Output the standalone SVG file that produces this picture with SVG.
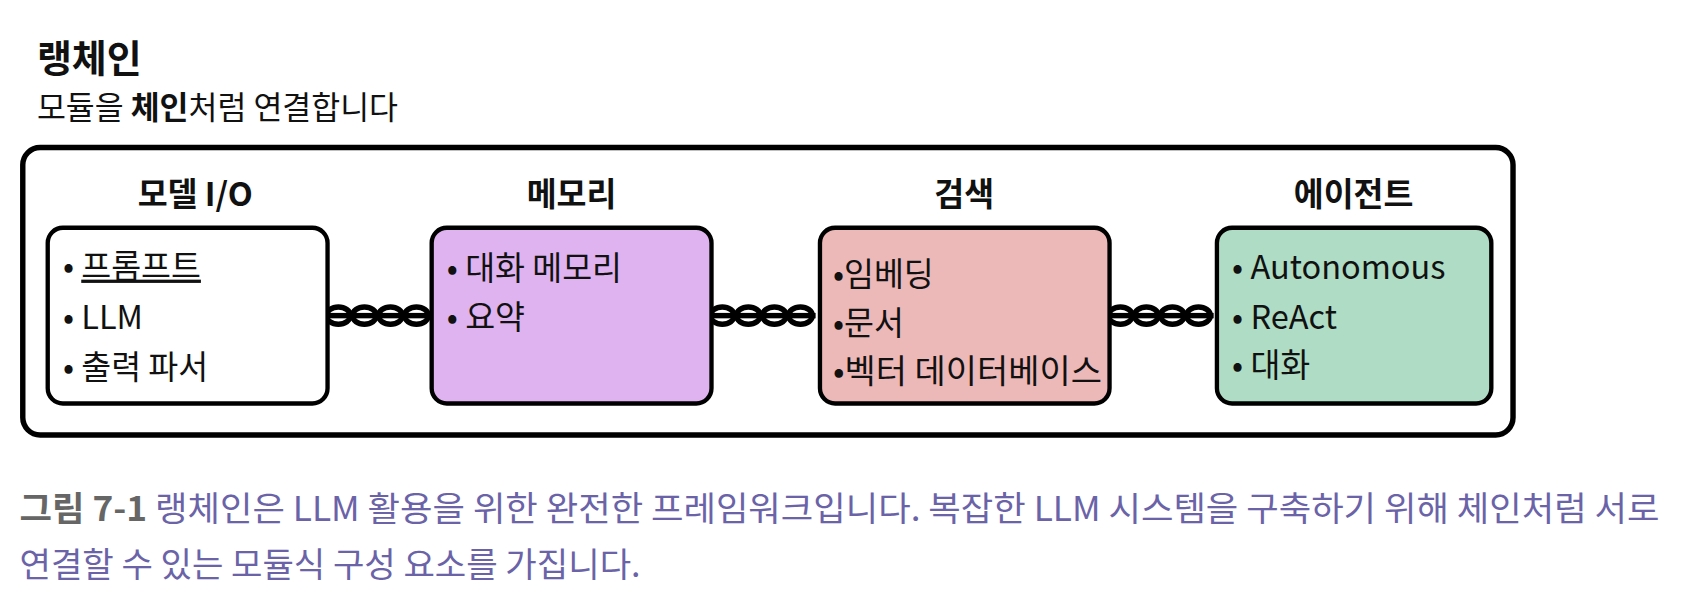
<svg xmlns="http://www.w3.org/2000/svg" width="1692" height="602" viewBox="0 0 1692 602">
<style>
text{font-family:"Noto Sans CJK KR","Noto Sans",sans-serif;fill:#111}
.h{font-weight:700;font-size:30px}
.t{font-size:30px}
.box{stroke:#000;stroke-width:4}
.ring{fill:none;stroke:#000;stroke-width:5}
.cap{font-size:31.5px;fill:#6b63a8}
</style>
<defs>
<g id="chain">
<ellipse class="ring" cx="10" cy="0" rx="11" ry="8"/>
<ellipse class="ring" cx="34" cy="0" rx="11" ry="8"/>
<ellipse class="ring" cx="58" cy="0" rx="11" ry="8"/>
<ellipse class="ring" cx="82" cy="0" rx="11" ry="8"/>
<rect x="0" y="-2.5" width="96" height="5" fill="#000"/>
</g>
</defs>
<g transform="scale(1.0846)">
<text x="34" y="66" class="h" style="font-size:35px">랭체인</text>
<text x="34" y="110" style="font-size:29px">모듈을 <tspan font-weight="700">체인</tspan>처럼 연결합니다</text>
<rect x="21" y="136" width="1374" height="265" rx="16" fill="#fff" stroke="#000" stroke-width="5"/>
<g id="connectors">
<use href="#chain" x="302" y="291"/>
<use href="#chain" x="656" y="291"/>
<use href="#chain" x="1023" y="291"/>
</g>
<g id="model-io">
<text x="180" y="190" class="h" text-anchor="middle">모델  I/O</text>
<rect class="box" x="44" y="210" width="258" height="162" rx="14" fill="#fff"/>
<text x="58" y="256" class="t">• <tspan text-decoration="underline">프롬프트</tspan></text>
<text x="58" y="303" class="t">• LLM</text>
<text x="58" y="349" class="t">• 출력 파서</text>
</g>
<g id="memory">
<text x="527" y="190" class="h" text-anchor="middle">메모리</text>
<rect class="box" x="398" y="210" width="258" height="162" rx="14" fill="#dfb3f0"/>
<text x="412" y="258" class="t">• 대화 메모리</text>
<text x="412" y="303" class="t">• 요약</text>
</g>
<g id="retrieval">
<text x="889" y="190" class="h" text-anchor="middle">검색</text>
<rect class="box" x="756" y="210" width="267" height="162" rx="14" fill="#ecb8b8"/>
<text x="768" y="264" class="t">•임베딩</text>
<text x="768" y="309" class="t">•문서</text>
<text x="768" y="353" class="t" textLength="248" lengthAdjust="spacingAndGlyphs">•벡터 데이터베이스</text>
</g>
<g id="agent">
<text x="1248" y="190" class="h" text-anchor="middle">에이전트</text>
<rect class="box" x="1122" y="210" width="253" height="162" rx="14" fill="#aedcc4"/>
<text x="1136" y="257" class="t">• Autonomous</text>
<text x="1136" y="303" class="t">• ReAct</text>
<text x="1136" y="348" class="t">• 대화</text>
</g>
<text x="18" y="480" class="cap" textLength="1512" lengthAdjust="spacingAndGlyphs"><tspan font-weight="700" fill="#666">그림 7-1</tspan> 랭체인은 LLM 활용을 위한 완전한 프레임워크입니다. 복잡한 LLM 시스템을 구축하기 위해 체인처럼 서로</text>
<text x="18" y="532" class="cap">연결할 수 있는 모듈식 구성 요소를 가집니다.</text>
</g>
</svg>
